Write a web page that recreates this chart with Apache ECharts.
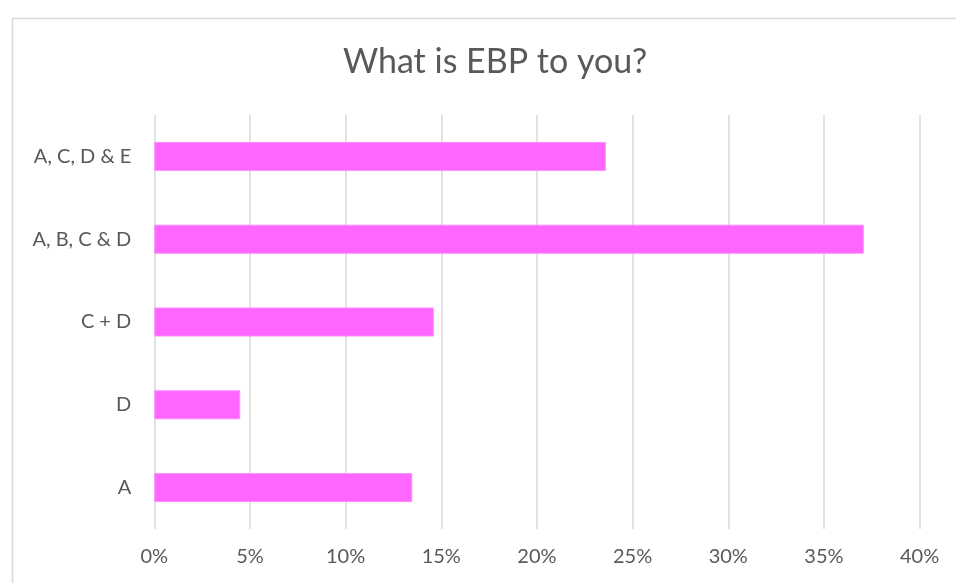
<!DOCTYPE html>
<html><head><meta charset="utf-8">
<script src="https://cdn.jsdelivr.net/npm/echarts@6/dist/echarts.min.js"></script>
<style>html,body{margin:0;padding:0;background:#fff}#c{width:956px;height:583px}</style>
</head><body><div id="c"></div>
<script>
const categories = ['A', 'D', 'C + D', 'A, B, C & D', 'A, C, D & E'];
const values = [13.48, 4.49, 14.61, 37.08, 23.60];
const xTicks = [0, 5, 10, 15, 20, 25, 30, 35, 40];
const titleText = 'What is EBP to you?';

const chart = echarts.init(document.getElementById('c'), null, {renderer: 'canvas'});
const font = 'Lato, "Open Sans", sans-serif';
chart.setOption({
  animation: false,
  backgroundColor: '#fff',
  graphic: [{type: 'rect', left: 10, top: 16, shape: {width: 1000, height: 700}, style: {fill: 'none', stroke: '#d9d9d9', lineWidth: 1.5}, silent: true}],
  title: {text: titleText, left: 490, textAlign: 'center', top: 40, textStyle: {fontFamily: font, fontSize: 34, fontWeight: 'normal', color: '#595959'}},
  grid: {left: 154.3, right: 36.4, top: 115, bottom: 54, containLabel: false},
  xAxis: {type: 'value', min: xTicks[0], max: xTicks[xTicks.length - 1], interval: 5,
    axisLine: {show: false}, axisTick: {show: false},
    splitLine: {show: true, lineStyle: {color: '#d9d9d9', width: 1.5}},
    axisLabel: {formatter: '{value}%', color: '#595959', fontFamily: font, fontSize: 20, margin: 18}},
  yAxis: {type: 'category', data: categories,
    axisLine: {show: false}, axisTick: {show: false},
    axisLabel: {color: '#595959', fontFamily: font, fontSize: 20, margin: 23}},
  series: [{type: 'bar', data: values, barWidth: '35%',
    itemStyle: {color: '#ff66ff', borderColor: '#ff88ff', borderWidth: 1}}]
});
</script></body></html>
